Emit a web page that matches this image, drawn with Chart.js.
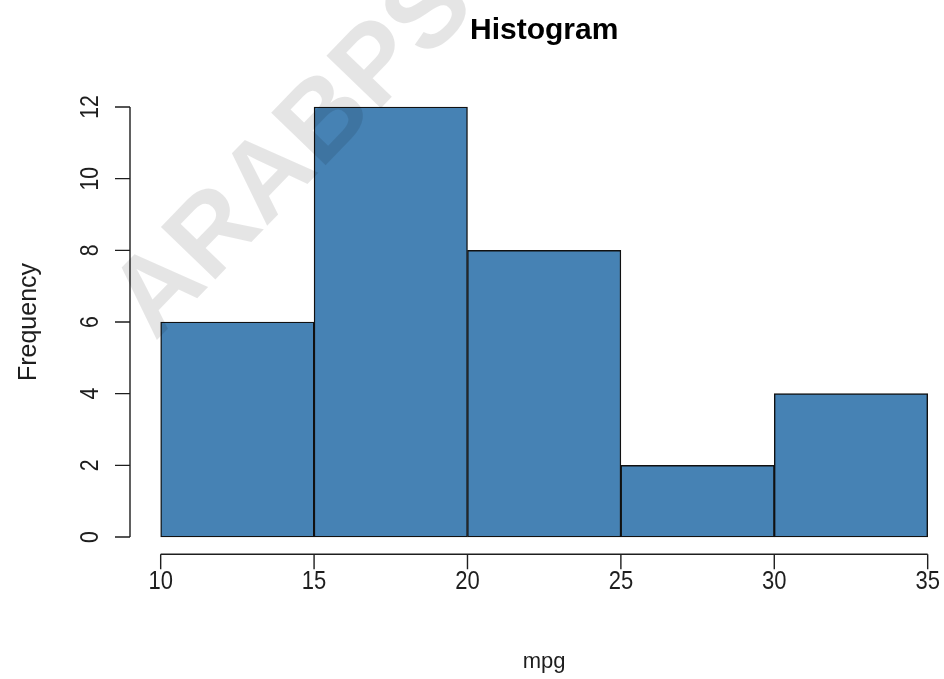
<!DOCTYPE html>
<html>
<head>
<meta charset="utf-8">
<script src="https://cdn.jsdelivr.net/npm/chart.js@4/dist/chart.umd.min.js"></script>
<style>
html,body{margin:0;padding:0;background:#fff;}
#wrap{width:944px;height:679px;}
</style>
</head>
<body>
<div id="wrap"><canvas id="c" width="944" height="679"></canvas></div>
<script>
const binEdges = [10, 15, 20, 25, 30, 35];
const frequencies = [6, 12, 8, 2, 4];
const xTicks = [10, 15, 20, 25, 30, 35];
const yTicks = [0, 2, 4, 6, 8, 10, 12];
const titleText = 'Histogram';
const xLabel = 'mpg';
const yLabel = 'Frequency';
const watermarkText = 'ARABPS';

const FONT = '"Liberation Sans", Arial, Helvetica, sans-serif';
const INK = '#1e1e1e';

const barData = frequencies.map((f, i) => ({ x: (binEdges[i] + binEdges[i + 1]) / 2, y: f }));

const rAxes = {
  id: 'rAxes',
  afterDraw(chart) {
    const ctx = chart.ctx;
    const xs = chart.scales.x, ys = chart.scales.y;
    const ca = chart.chartArea;
    ctx.save();
    ctx.strokeStyle = INK;
    ctx.lineWidth = 1.4;
    ctx.fillStyle = INK;
    // x axis
    const ax = ca.bottom;
    ctx.beginPath();
    ctx.moveTo(xs.getPixelForValue(xTicks[0]), ax);
    ctx.lineTo(xs.getPixelForValue(xTicks[xTicks.length - 1]), ax);
    xTicks.forEach(v => {
      const p = xs.getPixelForValue(v);
      ctx.moveTo(p, ax);
      ctx.lineTo(p, ax + 15);
    });
    ctx.stroke();
    ctx.font = '25px ' + FONT;
    ctx.textAlign = 'center';
    ctx.textBaseline = 'alphabetic';
    xTicks.forEach(v => {
      const p = xs.getPixelForValue(v);
      ctx.save();
      ctx.translate(p, ax + 35);
      ctx.scale(0.88, 1);
      ctx.fillText(String(v), 0, 0);
      ctx.restore();
    });
    // y axis
    const ay = ca.left;
    ctx.beginPath();
    ctx.moveTo(ay, ys.getPixelForValue(yTicks[0]));
    ctx.lineTo(ay, ys.getPixelForValue(yTicks[yTicks.length - 1]));
    yTicks.forEach(v => {
      const p = ys.getPixelForValue(v);
      ctx.moveTo(ay, p);
      ctx.lineTo(ay - 15, p);
    });
    ctx.stroke();
    yTicks.forEach(v => {
      const p = ys.getPixelForValue(v);
      ctx.save();
      ctx.translate(ay - 32, p);
      ctx.rotate(-Math.PI / 2);
      ctx.scale(0.85, 1);
      ctx.fillText(String(v), 0, 0);
      ctx.restore();
    });
    // axis titles
    const cx = (xs.getPixelForValue(xs.min) + xs.getPixelForValue(36)) / 2;
    ctx.font = '22px ' + FONT;
    ctx.fillText(xLabel, cx, 668);
    ctx.font = '25px ' + FONT;
    ctx.save();
    ctx.translate(36, ys.getPixelForValue(6));
    ctx.rotate(-Math.PI / 2);
    ctx.fillText(yLabel, 0, 0);
    ctx.restore();
    // title
    ctx.font = 'bold 30px ' + FONT;
    ctx.fillStyle = '#000';
    ctx.fillText(titleText, cx, 39);
    // watermark
    ctx.save();
    ctx.translate(155, 342);
    ctx.rotate(-46 * Math.PI / 180);
    ctx.font = 'bold 110px ' + FONT;
    ctx.textAlign = 'left';
    ctx.fillStyle = 'rgba(0,0,0,0.1)';
    ctx.fillText(watermarkText, 0, 0);
    ctx.restore();
    ctx.restore();
  }
};

const pxPerUnitX = (928 - 161) / 25;

new Chart(document.getElementById('c'), {
  type: 'bar',
  data: {
    datasets: [{
      data: barData,
      backgroundColor: '#4682B4',
      borderColor: '#111',
      borderWidth: 1.4,
      borderSkipped: false,
      barPercentage: 1,
      categoryPercentage: 1,
      grouped: false
    }]
  },
  options: {
    responsive: false,
    animation: false,
    events: [],
    layout: { padding: { left: 130, right: 0, top: 89.8, bottom: 124.8 } },
    plugins: { legend: { display: false }, title: { display: false }, tooltip: { enabled: false } },
    scales: {
      x: {
        type: 'linear', min: 9, max: 9 + (944 - 130) / pxPerUnitX, offset: false, display: false,
        afterBuildTicks: s => { s.ticks = xTicks.map(v => ({ value: v })); }
      },
      y: { type: 'linear', min: -0.48, max: 12.48, display: false }
    }
  },
  plugins: [rAxes]
});
</script>
</body>
</html>
